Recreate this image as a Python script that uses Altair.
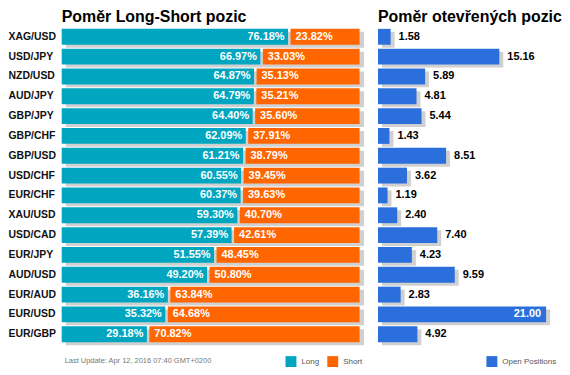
import altair as alt
import pandas as pd

pairs = ["XAG/USD", "USD/JPY", "NZD/USD", "AUD/JPY", "GBP/JPY", "GBP/CHF", "GBP/USD", "USD/CHF",
         "EUR/CHF", "XAU/USD", "USD/CAD", "EUR/JPY", "AUD/USD", "EUR/AUD", "EUR/USD", "EUR/GBP"]
long_pct = [76.18, 66.97, 64.87, 64.79, 64.40, 62.09, 61.21, 60.55,
            60.37, 59.30, 57.39, 51.55, 49.20, 36.16, 35.32, 29.18]
short_pct = [23.82, 33.03, 35.13, 35.21, 35.60, 37.91, 38.79, 39.45,
             39.63, 40.70, 42.61, 48.45, 50.80, 63.84, 64.68, 70.82]
open_pos = [1.58, 15.16, 5.89, 4.81, 5.44, 1.43, 8.51, 3.62,
            1.19, 2.40, 7.40, 4.23, 9.59, 2.83, 21.00, 4.92]
update_text = "Last Update: Apr 12, 2016 07:40 GMT+0200"
left_title = "Poměr Long-Short pozic"
right_title = "Poměr otevřených pozic"

df = pd.DataFrame({"pair": pairs, "long": long_pct, "short": short_pct, "open": open_pos})
df["inside"] = df["open"] == df["open"].max()
df["series"] = "Open Positions"

TEAL = "#00A6BF"
ORANGE = "#FF6600"
BLUE = "#2A6FDB"
SHADOW = "#D0D0D0"
FONT = "Liberation Sans"

yscale = alt.Scale(paddingInner=0.2, paddingOuter=0.1)
y_axis = alt.Y("pair:N", sort=pairs, scale=yscale,
               axis=alt.Axis(title=None, labelAlign="left", labelPadding=54, ticks=False,
                             domain=False, labelFont=FONT, labelFontSize=10.5,
                             labelFontWeight="bold", labelColor="#111"))
y_plain = alt.Y("pair:N", sort=pairs, scale=yscale, axis=None)

xs_left = alt.Scale(domain=[0, 100], nice=False, zero=False)
base = alt.Chart(df)

l_shadow = base.transform_calculate(z0="0", z1="100").mark_bar(
    color=SHADOW, xOffset=4, x2Offset=2, yOffset=3, y2Offset=3
).encode(x=alt.X("z0:Q", scale=xs_left, axis=None), x2="z1:Q", y=y_axis)

l_bars = base.transform_fold(["long", "short"], as_=["side", "pct"]).transform_calculate(
    x0="datum.side == 'long' ? 0 : datum.long",
    x1="datum.side == 'long' ? datum.long : 100",
    side_label="datum.side == 'long' ? 'Long' : 'Short'",
).mark_bar(x2Offset=-2.5).encode(
    x=alt.X("x0:Q", scale=xs_left, axis=None), x2="x1:Q", y=y_axis,
    color=alt.Color("side_label:N", scale=alt.Scale(domain=["Long", "Short"], range=[TEAL, ORANGE]),
                    legend=alt.Legend(title=None, orient="none", legendX=225, legendY=331,
                                      direction="horizontal", symbolType="square", symbolSize=120,
                                      symbolStrokeWidth=0, labelFont=FONT, labelFontSize=8,
                                      labelColor="#555", labelOffset=5, columnPadding=8)),
)

l_long_txt = base.transform_calculate(lt="format(datum.long, '.2f') + '%'").mark_text(
    align="right", baseline="middle", dx=-6, font=FONT, fontSize=11, fontWeight="bold", color="white"
).encode(x=alt.X("long:Q", scale=xs_left, axis=None), y=y_axis, text="lt:N")

l_short_txt = base.transform_calculate(st="format(datum.short, '.2f') + '%'").mark_text(
    align="left", baseline="middle", dx=5, font=FONT, fontSize=11, fontWeight="bold", color="white"
).encode(x=alt.X("long:Q", scale=xs_left, axis=None), y=y_axis, text="st:N")

upd = alt.Chart(pd.DataFrame({"t": [update_text]})).mark_text(
    align="left", baseline="middle", font=FONT, fontSize=7.5, color="#777"
).encode(x=alt.value(3), y=alt.value(336), text="t:N")

left = alt.layer(l_shadow, l_bars, l_long_txt, l_short_txt, upd).properties(
    width=302, height=319,
    title=alt.TitleParams(left_title, anchor="start", frame="group", font=FONT, fontSize=16,
                          fontWeight="bold", color="#000", offset=2),
)

xs_right = alt.Scale(domain=[0, 21], nice=False)
r_shadow = base.mark_bar(color=SHADOW, xOffset=4, x2Offset=4, yOffset=3, y2Offset=3).encode(
    x=alt.X("open:Q", scale=xs_right, axis=None), y=y_plain)
r_bars = base.mark_bar().encode(
    x=alt.X("open:Q", scale=xs_right, axis=None), y=y_plain,
    color=alt.Color("series:N", scale=alt.Scale(domain=["Open Positions"], range=[BLUE]),
                    legend=alt.Legend(title=None, orient="none", legendX=109, legendY=331,
                                      symbolType="square", symbolSize=120, symbolStrokeWidth=0,
                                      labelFont=FONT, labelFontSize=8, labelColor="#555",
                                      labelOffset=5)),
)
r_txt_out = base.transform_filter("!datum.inside").transform_calculate(
    vt="format(datum.open, '.2f')").mark_text(
    align="left", baseline="middle", dx=8, font=FONT, fontSize=11, fontWeight="bold", color="#000"
).encode(x=alt.X("open:Q", scale=xs_right, axis=None), y=y_plain, text="vt:N")
r_txt_in = base.transform_filter("datum.inside").transform_calculate(
    vt="format(datum.open, '.2f')").mark_text(
    align="right", baseline="middle", dx=-5, font=FONT, fontSize=11, fontWeight="bold", color="white"
).encode(x=alt.X("open:Q", scale=xs_right, axis=None), y=y_plain, text="vt:N")

right = alt.layer(r_shadow, r_bars, r_txt_out, r_txt_in).properties(
    width=169, height=319,
    title=alt.TitleParams(right_title, anchor="start", frame="group", font=FONT, fontSize=16,
                          fontWeight="bold", color="#000", offset=2),
)

chart = alt.hconcat(left, right, spacing=14).resolve_scale(color="independent").properties(
    padding=0
).configure(background="white").configure_view(strokeWidth=0, stroke="transparent")

chart.save("out.html", embed_options={"renderer": "svg", "actions": False})
